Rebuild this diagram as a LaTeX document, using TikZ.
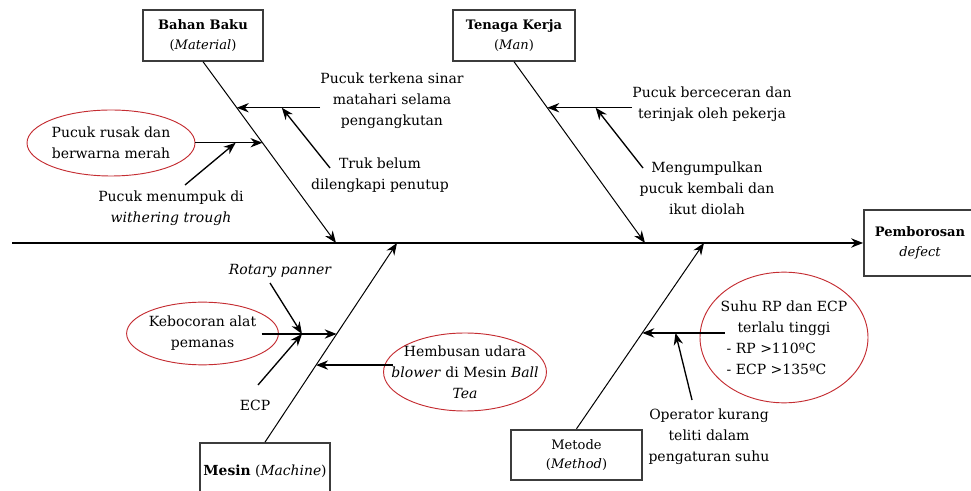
\documentclass[tikz,border=0pt]{standalone}
\usepackage{fontspec}
\setmainfont{DejaVu Serif}
\usetikzlibrary{arrows.meta,shapes.geometric}
\definecolor{cause_red}{RGB}{196,45,50}
\definecolor{box_gray}{RGB}{60,60,60}
\begin{document}
\begin{tikzpicture}[x=0.75pt,y=-0.75pt,>={Stealth[length=9pt,width=7pt]},font=\fontsize{10.5}{15.8}\selectfont]
	\tikzstyle{box_style} = [draw=box_gray,line width=1.3pt,align=center,inner sep=0pt,minimum height=38pt,font=\fontsize{9.8}{14.5}\selectfont]
	\tikzstyle{cause_style} = [align=center,inner sep=0pt]
	\tikzstyle{oval_style} = [ellipse,draw=cause_red,line width=0.7pt,align=center,inner sep=0pt]
	\tikzstyle{arrow_style} = [->,line width=1pt]
	\tikzstyle{bone_style} = [->,line width=0.75pt]
	\useasboundingbox (0,0) rectangle (971,491);
	%%% kepala ikan
	\node[box_style,minimum width=84pt,minimum height=49pt] (effect) at (920,243) {\textbf{Pemborosan}\\\textit{defect}};
	\coordinate (spine) at (12,243);
	\draw[arrow_style] (spine) -- (effect.west);
	%%% kategori
	\node[box_style,minimum width=90pt] (material) at (203,35.5) {\textbf{Bahan Baku}\\(\textit{Material})};
	\node[box_style,minimum width=91.5pt] (man) at (514,35.5) {\textbf{Tenaga Kerja}\\(\textit{Man})};
	\node[box_style,minimum width=97.5pt,minimum height=42pt,font=\fontsize{10.4}{14.5}\selectfont] (machine) at (265,471) {\textbf{Mesin} (\textit{Machine})};
	\node[box_style,minimum width=98pt] (method) at (576.5,455) {Metode\\(\textit{Method})};
	\coordinate (material-end) at (336,243);
	\coordinate (man-end) at (645,243);
	\coordinate (machine-end) at (397,243);
	\coordinate (method-end) at (704,243);
	\foreach \c/\a in {material/south,man/south,machine/north,method/north}{
		\draw[bone_style] (\c.\a) -- (\c-end);
	}
	\path (material.south) -- (material-end) coordinate[pos=0.254] (material-1) coordinate[pos=0.447] (material-2);
	\path (man.south) -- (man-end) coordinate[pos=0.254] (man-1);
	\path (machine.north) -- (machine-end) coordinate[pos=0.387] (machine-1) coordinate[pos=0.543] (machine-2);
	\path (method.north) -- (method-end) coordinate[pos=0.516] (method-1);
	%%% Bahan Baku
	\node[cause_style] (sinar) at (392,101) {Pucuk terkena sinar\\matahari selama\\pengangkutan};
	\node[cause_style] (truk) at (380,175) {Truk belum\\dilengkapi penutup};
	\node[oval_style,minimum width=126pt,minimum height=49.5pt] (rusak) at (111,143) {Pucuk rusak dan\\berwarna merah};
	\node[cause_style] (menumpuk) at (171,208) {Pucuk menumpuk di\\\textit{withering trough}};
	\draw[arrow_style] (sinar.west |- material-1) -- (material-1) coordinate[pos=0.46] (sinar-mid);
	\draw[arrow_style] ([shift={(-50,-7)}]truk.center) -- (sinar-mid);
	\draw[arrow_style] (rusak.east |- material-2) -- (material-2) coordinate[pos=0.6] (rusak-mid);
	\draw[arrow_style] ([shift={(14,-23)}]menumpuk.center) -- (rusak-mid);
	%%% Tenaga Kerja
	\node[cause_style] (berceceran) at (712,104) {Pucuk berceceran dan\\terinjak oleh pekerja};
	\node[cause_style] (kumpul) at (707,188) {Mengumpulkan\\pucuk kembali dan\\ikut diolah};
	\draw[arrow_style] (berceceran.west |- man-1) -- (man-1) coordinate[pos=0.43] (berceceran-mid);
	\draw[arrow_style] ([shift={(-64,-20)}]kumpul.center) -- (berceceran-mid);
	%%% Mesin
	\node[cause_style,font=\fontsize{10.5}{15.8}\selectfont\itshape] (rotary) at (280,271) {Rotary panner};
	\node[oval_style,minimum width=109pt,minimum height=47pt] (bocor) at (202.5,333.5) {Kebocoran alat\\pemanas};
	\node[cause_style] (ecp) at (255,405) {ECP};
	\node[oval_style,inner xsep=-12pt,minimum width=120pt,minimum height=58.5pt] (hembus) at (465,372) {Hembusan udara\\\textit{blower} di Mesin \textit{Ball}\\\textit{Tea}};
	\draw[arrow_style,shorten <=-13pt] (bocor.east |- machine-2) -- (machine-2) coordinate[pos=0.4] (bocor-mid);
	\draw[arrow_style] ([shift={(-10,12)}]rotary.center) -- (bocor-mid);
	\draw[arrow_style] ([shift={(3,-20)}]ecp.center) -- (bocor-mid);
	\draw[arrow_style,shorten <=-7.5pt] (hembus.west |- machine-1) -- (machine-1);
	%%% Metode
	\node[oval_style,inner xsep=-3pt,minimum width=126pt,minimum height=98pt] (suhu) at (784,337.5) {Suhu RP dan ECP\\terlalu tinggi\\\makebox[86pt][l]{- RP >110ºC}\\\makebox[86pt][l]{- ECP >135ºC}};
	\node[cause_style] (operator) at (709,437) {Operator kurang\\teliti dalam\\pengaturan suhu};
	\draw[arrow_style,shorten <=-19pt] (suhu.west |- method-1) -- (method-1) coordinate[pos=0.42] (suhu-mid);
	\draw[arrow_style] ([shift={(-17,-37)}]operator.center) -- (suhu-mid);
\end{tikzpicture}
\end{document}
